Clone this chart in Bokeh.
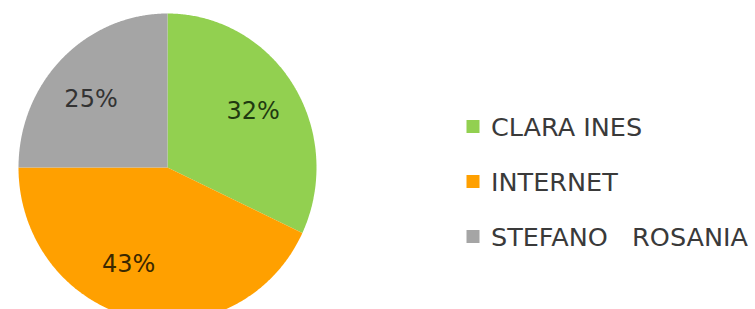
import math
import re
from bokeh.plotting import figure
from bokeh.models import ColumnDataSource, Range1d
from bokeh.core.properties import value
from bokeh.embed import file_html
from bokeh.resources import INLINE

# ---- data ----
categories = ["CLARA INES", "INTERNET", "STEFANO   ROSANIA"]
values = [32, 43, 25]
colors = ["#92D050", "#FFA000", "#A5A5A5"]
label_colors = ["#1f3a10", "#3a2800", "#333333"]

# ---- layout (pixel-like data space) ----
W, H = 755, 309
cx, cy = 167, 142          # pie centre
rx, ry = 149, 154          # pie radii (picture is slightly stretched vertically)
label_r = 0.68
label_nudge_deg = [0, 10, -4]
leg_x, leg_y0, leg_dy, leg_sq = 472.5, 183, 55, 13
leg_text_dx = 18
FONT = "DejaVu Sans"

p = figure(width=W, height=H, x_range=Range1d(0, W), y_range=Range1d(0, H),
           output_backend="svg", toolbar_location=None, min_border=0,
           outline_line_color=None)
p.axis.visible = False
p.grid.visible = False
p.background_fill_color = "white"
p.border_fill_color = "white"

total = float(sum(values))
xs, ys, lx, ly, labels = [], [], [], [], []
cum = 0.0
for v, nd in zip(values, label_nudge_deg):
    a0 = cum / total * 2 * math.pi
    a1 = (cum + v) / total * 2 * math.pi
    steps = 240
    px, py = [cx], [cy]
    for k in range(steps + 1):
        a = a0 + (a1 - a0) * k / steps
        px.append(cx + rx * math.sin(a))
        py.append(cy + ry * math.cos(a))
    xs.append(px)
    ys.append(py)
    mid = (a0 + a1) / 2 + math.radians(nd)
    lx.append(cx + label_r * rx * math.sin(mid))
    ly.append(cy + label_r * ry * math.cos(mid))
    labels.append(f"{round(v / total * 100)}%")
    cum += v

src = ColumnDataSource(dict(xs=xs, ys=ys, color=colors, cat=categories))
p.patches(xs="xs", ys="ys", fill_color="color", line_color=None, source=src)

lab_src = ColumnDataSource(dict(x=lx, y=ly, label=labels, color=label_colors))
p.text(x="x", y="y", text="label", text_color="color", source=lab_src,
       text_font=value(FONT), text_font_size="24px",
       text_align="center", text_baseline="middle")

# legend (keep runs of spaces visible in the SVG text)
shown = [re.sub(r" (?= )", "\u00a0", c) for c in categories]
n = len(categories)
leg_src = ColumnDataSource(dict(
    x=[leg_x] * n,
    y=[leg_y0 - i * leg_dy for i in range(n)],
    tx=[leg_x + leg_text_dx] * n,
    color=colors, cat=shown))
p.rect(x="x", y="y", width=leg_sq, height=leg_sq, fill_color="color",
       line_color=None, source=leg_src)
p.text(x="tx", y="y", text="cat", source=leg_src, text_color="#3a3a3a",
       text_font=value(FONT), text_font_size="25.5px",
       text_align="left", text_baseline="middle")

open("out.html", "w").write(file_html(p, INLINE))
